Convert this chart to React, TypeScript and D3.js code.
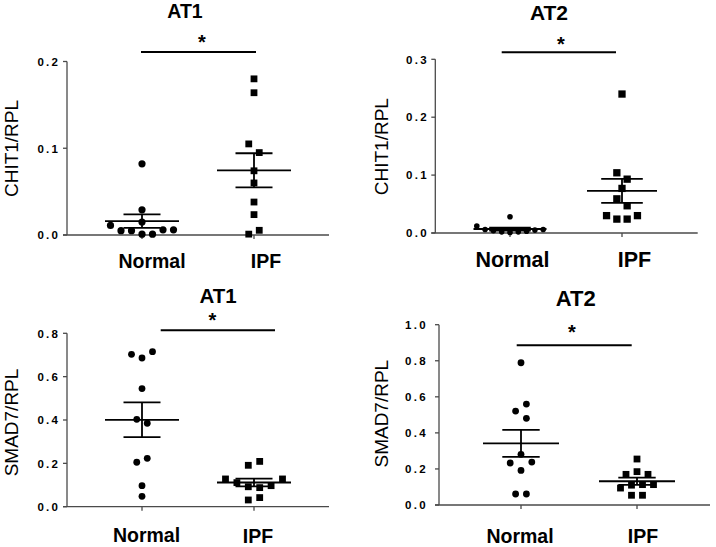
import React from "react";
import * as d3 from "d3";

// group names
const groups = ["Normal", "IPF"];

// values (order = order Prism stacks them in the swarm)
const chit1At1Normal = [0.082, 0.029, 0.015, 0.001, 0.001, 0.005, 0.006, 0.005, 0.006, 0.011];
const chit1At1Ipf = [0.18, 0.164, 0.105, 0.095, 0.074, 0.06, 0.038, 0.0235, 0.001, 0.0054];
const chit1At2Normal = [0.028, 0.001, 0.002, 0.002, 0.003, 0.004, 0.005, 0.006, 0.006, 0.012];
const chit1At2Ipf = [0.24, 0.104, 0.093, 0.077, 0.059, 0.047, 0.024, 0.024, 0.03, 0.03];
const smad7At1Normal = [0.686, 0.715, 0.703, 0.545, 0.403, 0.385, 0.205, 0.223, 0.097, 0.048];
const smad7At1Ipf = [0.191, 0.209, 0.092, 0.088, 0.111, 0.097, 0.128, 0.128, 0.031, 0.042];
const smad7At2Normal = [0.789, 0.521, 0.56, 0.481, 0.281, 0.238, 0.233, 0.192, 0.061, 0.061];
const smad7At2Ipf = [0.255, 0.185, 0.17, 0.17, 0.11, 0.113, 0.094, 0.113, 0.054, 0.054];

// y ticks
const ticksChit1At1 = [0, 0.1, 0.2];
const ticksChit1At2 = [0, 0.1, 0.2, 0.3];
const ticksSmad7At1 = [0, 0.2, 0.4, 0.6, 0.8];
const ticksSmad7At2 = [0, 0.2, 0.4, 0.6, 0.8, 1.0];

const FONT = "'Liberation Sans', Arial, Helvetica, sans-serif";
const AXIS = "#4a4a4a";

// layout of each panel (positions only)
const panels = [
  {
    title: "AT1", yLabel: "CHIT1/RPL", data: [chit1At1Normal, chit1At1Ipf], ticks: ticksChit1At1, sig: 0.211,
    axisX: 67, y0: 235, yTop: 61.5, xEnd: 329, catX: [142, 254], labelX: [152, 266], labelY: [268, 268], labelSize: 19.5,
    titleX: 185, titleY: 18, titleSize: 19.5, starX: 202, starY: 38, ylabX: 17.5, ylabY: 148.5, tickGap: 9,
    steps: [10.5, 10.5], gaps: [9, 9], r: 3.6, sq: 6.8, meanHalf: [37, 37], semHalf: [18.5, 18.5], sigDx: [-1, 2],
  },
  {
    title: "AT2", yLabel: "CHIT1/RPL", data: [chit1At2Normal, chit1At2Ipf], ticks: ticksChit1At2, sig: 0.312,
    axisX: 435.3, y0: 233, yTop: 59.3, xEnd: 697.7, catX: [510, 622], labelX: [512.5, 634.5], labelY: [267, 267], labelSize: 21.5,
    titleX: 549, titleY: 19.5, titleSize: 21, starX: 561, starY: 40, ylabX: 388, ylabY: 146.7, tickGap: 8.7,
    steps: [8.3, 10.3], gaps: [7, 9], r: 2.8, sq: 7.3, meanHalf: [36.5, 35], semHalf: [20.8, 20.8], sigDx: [-8.3, -6],
  },
  {
    title: "AT1", yLabel: "SMAD7/RPL", data: [smad7At1Normal, smad7At1Ipf], ticks: ticksSmad7At1, sig: 0.814,
    axisX: 67, y0: 506.7, yTop: 333.3, xEnd: 329, catX: [142, 254], labelX: [146.5, 258], labelY: [541.5, 542.5], labelSize: 19.5,
    titleX: 218, titleY: 303.3, titleSize: 20.5, starX: 212.3, starY: 316, ylabX: 17.5, ylabY: 422.5, tickGap: 9,
    steps: [10.5, 11.4], gaps: [9, 9], r: 3.4, sq: 6.8, meanHalf: [37, 37], semHalf: [18.5, 18.5], sigDx: [18.7, 21],
  },
  {
    title: "AT2", yLabel: "SMAD7/RPL", data: [smad7At2Normal, smad7At2Ipf], ticks: ticksSmad7At2, sig: 0.886,
    axisX: 439, y0: 505, yTop: 324.7, xEnd: 710, catX: [521, 637], labelX: [520, 643], labelY: [542.5, 542.5], labelSize: 19.5,
    titleX: 575.8, titleY: 305.7, titleSize: 22, starX: 572, starY: 328.3, ylabX: 388, ylabY: 413.7, tickGap: 13.3,
    steps: [10.8, 11], gaps: [9, 9], r: 3.4, sq: 6.8, meanHalf: [38, 38], semHalf: [18.7, 18.7], sigDx: [-4.3, -5.3],
  },
];

// grid beeswarm: each point goes to the first free column (0, +1, -1, +2, ...),
// then every group of points that bumped into each other is centred
function swarm(values: number[], y: (v: number) => number, step: number, gap: number) {
  const placed: { i: number; py: number; col: number }[] = [];
  const parent = values.map((_, i) => i);
  const find = (i: number): number => (parent[i] === i ? i : (parent[i] = find(parent[i])));
  values.forEach((v, i) => {
    const py = y(v);
    for (let k = 0; k < 50; k++) {
      const col = k === 0 ? 0 : k % 2 ? (k + 1) / 2 : -k / 2;
      const hits = placed.filter((p) => p.col === col && Math.abs(p.py - py) < gap);
      if (!hits.length) {
        placed.push({ i, py, col });
        break;
      }
      hits.forEach((h) => (parent[find(h.i)] = find(i)));
    }
  });
  const shift = new Map<number, number>();
  d3.group(placed, (p) => find(p.i)).forEach((pts, root) => {
    const [lo, hi] = d3.extent(pts, (p) => p.col) as [number, number];
    shift.set(root, (lo + hi) / 2);
  });
  const out = new Array(values.length).fill(0);
  placed.forEach((p) => (out[p.i] = (p.col - shift.get(find(p.i))!) * step));
  return out;
}

const fmt = d3.format(".1f");

function Panel({ p }: { p: (typeof panels)[number] }) {
  const max = p.ticks[p.ticks.length - 1];
  const y = d3.scaleLinear().domain([0, max]).range([p.y0, p.yTop]);
  const x = d3.scaleOrdinal<string, number>().domain(groups).range(p.catX);
  const ls = 2.3;

  return (
    <g fontFamily={FONT}>
      <text x={p.titleX} y={p.titleY} textAnchor="middle" fontSize={p.titleSize} fontWeight="bold">{p.title}</text>

      {/* y axis */}
      <line x1={p.axisX} x2={p.axisX} y1={p.y0} y2={p.yTop} stroke={AXIS} strokeWidth={1.3} />
      {p.ticks.map((t) => (
        <g key={t}>
          <line x1={p.axisX - 4} x2={p.axisX} y1={y(t)} y2={y(t)} stroke={AXIS} strokeWidth={1.3} />
          <text x={p.axisX - p.tickGap + ls} y={y(t)} dy="0.37em" textAnchor="end" fontSize={11.5}
            fontWeight="bold" letterSpacing={ls}>{fmt(t)}</text>
        </g>
      ))}
      <text transform={`translate(${p.ylabX},${p.ylabY}) rotate(-90)`} textAnchor="middle" fontSize={19}>
        {p.yLabel}
      </text>

      {/* x axis */}
      <line x1={p.axisX - 4} x2={p.xEnd} y1={p.y0} y2={p.y0} stroke={AXIS} strokeWidth={1.3} />
      {groups.map((g, gi) => (
        <g key={g}>
          <line x1={x(g)} x2={x(g)} y1={p.y0} y2={p.y0 + 4} stroke={AXIS} strokeWidth={1.3} />
          <text x={p.labelX[gi]} y={p.labelY[gi]} textAnchor="middle" fontSize={p.labelSize} fontWeight="bold">{g}</text>
        </g>
      ))}

      {/* points, mean and SEM */}
      {groups.map((g, gi) => {
        const vals = p.data[gi];
        const offs = swarm(vals, y, p.steps[gi], p.gaps[gi]);
        const m = d3.mean(vals)!;
        const sem = d3.deviation(vals)! / Math.sqrt(vals.length);
        const cx = x(g);
        return (
          <g key={g}>
            {vals.map((v, i) =>
              gi === 0 ? (
                <circle key={i} cx={cx + offs[i]} cy={y(v)} r={p.r} fill="#000" />
              ) : (
                <rect key={i} x={cx + offs[i] - p.sq / 2} y={y(v) - p.sq / 2} width={p.sq} height={p.sq} fill="#000" />
              )
            )}
            <line x1={cx - p.meanHalf[gi]} x2={cx + p.meanHalf[gi]} y1={y(m)} y2={y(m)} stroke="#000" strokeWidth={1.8} />
            <line x1={cx - p.semHalf[gi]} x2={cx + p.semHalf[gi]} y1={y(m + sem)} y2={y(m + sem)} stroke="#000" strokeWidth={1.8} />
            <line x1={cx - p.semHalf[gi]} x2={cx + p.semHalf[gi]} y1={y(m - sem)} y2={y(m - sem)} stroke="#000" strokeWidth={1.8} />
            <line x1={cx} x2={cx} y1={y(m - sem)} y2={y(m + sem)} stroke="#000" strokeWidth={1.8} />
          </g>
        );
      })}

      {/* significance */}
      <line x1={x(groups[0]) + p.sigDx[0]} x2={x(groups[1]) + p.sigDx[1]} y1={y(p.sig)} y2={y(p.sig)}
        stroke="#000" strokeWidth={2} />
      <text x={p.starX} y={p.starY + 11} textAnchor="middle" fontSize={20} fontWeight="bold">*</text>
    </g>
  );
}

export default function App() {
  return (
    <svg width={716} height={547} style={{ position: "absolute", left: 0, top: 0, background: "#fff" }}>
      {panels.map((p, i) => (
        <Panel key={i} p={p} />
      ))}
    </svg>
  );
}
